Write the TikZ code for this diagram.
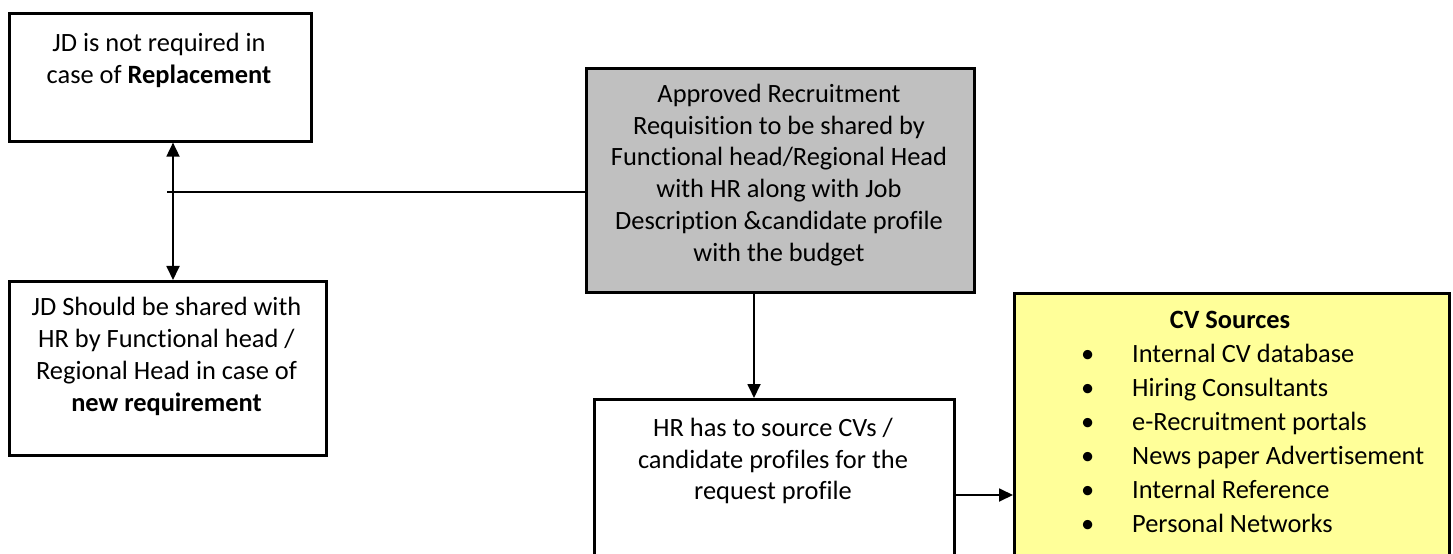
\documentclass[tikz,border=0pt]{standalone}
\usepackage{fontspec}
\setmainfont{Carlito}[Ligatures=NoCommon]
\usetikzlibrary{arrows.meta}
\definecolor{boxgray}{HTML}{C0C0C0}
\definecolor{cvyellow}{HTML}{FFFF99}
\begin{document}
\begin{tikzpicture}[x=1bp,y=-1bp,
  boxshape/.style={draw,line width=2.6bp,inner sep=0pt,anchor=north west},
  txt/.style={align=center,inner sep=0pt,font=\fontsize{26.5}{32}\selectfont},
  conn/.style={line width=1.8bp},
  arr/.style={conn,-{Triangle[length=14bp,width=13bp]}},
  arrtwo/.style={conn,{Triangle[length=14bp,width=13bp]}-{Triangle[length=14bp,width=13bp]}}]
\path[use as bounding box,clip] (0,0) rectangle (1453,554);
\fill[white] (0,0) rectangle (1453,554);

% boxes
\node[boxshape,minimum width=302bp,minimum height=128bp] (a) at (8,12) {};
\node[boxshape,minimum width=317bp,minimum height=174bp] (b) at (8,280) {};
\node[boxshape,fill=boxgray,minimum width=388bp,minimum height=224bp] (g) at (585,67) {};
\node[boxshape,minimum width=360bp,minimum height=220bp] (hr) at (593,398) {};
\node[boxshape,fill=cvyellow,minimum width=435bp,minimum height=320bp] (cv) at (1013,292) {};

% texts
\node[txt] (ta) at (159,60.5) {JD is not required in\\case of \textbf{Replacement}};
\node[txt] (tb) at (166.5,356.5) {JD Should be shared with\\HR by Functional head /\\Regional Head in case of\\\textbf{new requirement}};
\node[txt] (tg) at (779,175) {Approved Recruitment\\Requisition to be shared by\\Functional head/Regional Head\\with HR along with Job\\Description \&candidate profile\\with the budget};
\node[txt] (thr) at (773,461) {HR has to source CVs /\\candidate profiles for the\\request profile};
\node[txt] (tcv) at (1230,320) {\textbf{CV Sources}};
\node[txt,align=left,anchor=west,font=\fontsize{26.5}{34}\selectfont] (tlist) at (1081,438.5) {%
\makebox[51bp][l]{•}Internal CV database\\
\makebox[51bp][l]{•}Hiring Consultants\\
\makebox[51bp][l]{•}e-Recruitment portals\\
\makebox[51bp][l]{•}News paper Advertisement\\
\makebox[51bp][l]{•}Internal Reference\\
\makebox[51bp][l]{•}Personal Networks};

% connectors
\coordinate (dx) at (173,0);
\coordinate (hstart) at (167,192);
\coordinate (vx) at (754,0);
\coordinate (hy) at (0,495);
\draw[arrtwo] (a.south -| dx) -- (b.north -| dx);
\draw[conn] (hstart) -- (g.west |- hstart);
\draw[arr] (g.south -| vx) -- (hr.north -| vx);
\draw[arr] (hr.east |- hy) -- (cv.west |- hy);
\end{tikzpicture}
\end{document}
